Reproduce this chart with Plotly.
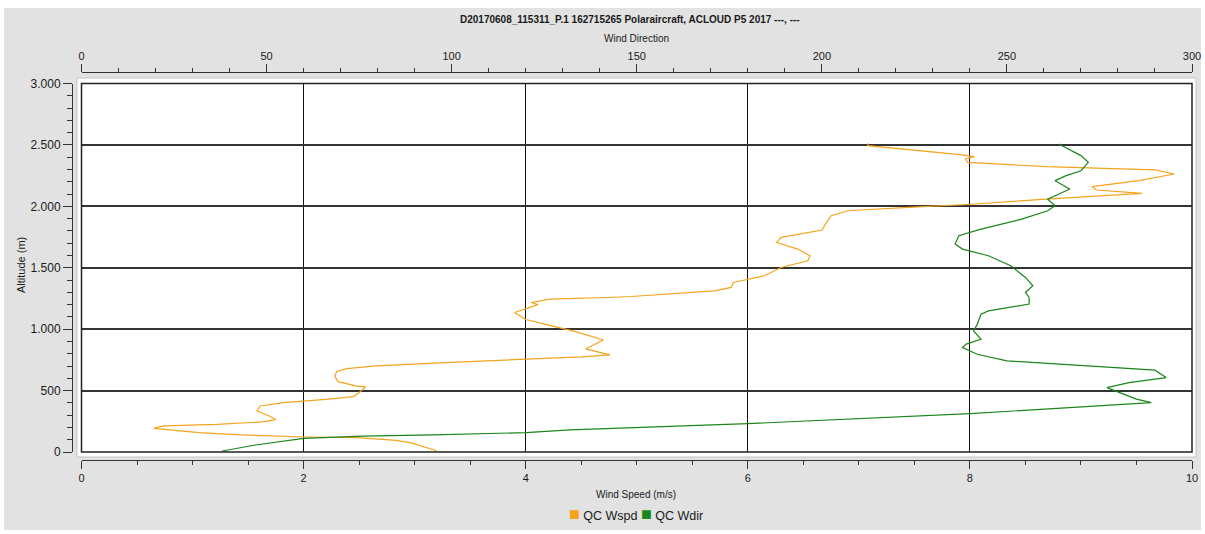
import plotly.graph_objects as go

# ---------------- data ----------------
wspd_alt = [10, 76, 95, 117, 122, 139, 158, 185, 192, 212, 225, 245, 264, 293, 334, 375,
            402, 429, 451, 484, 530, 538, 573, 619, 655, 679, 701, 728, 755, 775, 791, 840,
            912, 980, 1035, 1079, 1136, 1200, 1217, 1244, 1258, 1266, 1312, 1340, 1380, 1407,
            1435, 1502, 1557, 1598, 1652, 1706, 1747, 1807, 1842, 1924, 1964, 1997, 2013, 2059,
            2106, 2133, 2160, 2209, 2263, 2296, 2323, 2358, 2385, 2405, 2421, 2494, 2513]
wspd = [3.20, 2.96, 2.83, 2.48, 2.01, 1.44, 1.06, 0.68, 0.65, 0.74, 1.22, 1.63, 1.75, 1.69,
        1.58, 1.61, 1.82, 2.20, 2.45, 2.50, 2.56, 2.47, 2.31, 2.28, 2.30, 2.39, 2.65, 3.28,
        4.00, 4.50, 4.76, 4.54, 4.70, 4.45, 4.20, 4.00, 3.90, 4.11, 4.05, 4.22, 4.73, 4.95,
        5.70, 5.85, 5.87, 6.00, 6.15, 6.30, 6.54, 6.56, 6.45, 6.26, 6.30, 6.67, 6.69, 6.75,
        6.90, 7.57, 7.94, 8.69, 9.55, 9.14, 9.10, 9.52, 9.84, 9.67, 8.69, 7.98, 7.96, 8.04,
        7.91, 7.08, 7.08]

wdir_alt = [8, 57, 111, 130, 139, 158, 180, 231, 312, 402, 430, 497, 524, 565, 606, 666,
            701, 742, 796, 850, 878, 918, 986, 1041, 1122, 1149, 1204, 1258, 1299, 1353, 1421,
            1516, 1598, 1652, 1693, 1761, 1815, 1896, 1964, 2005, 2059, 2100, 2141, 2209, 2250,
            2290, 2358, 2413, 2508]
wdir = [38, 47, 60, 76, 95, 120, 132, 180, 240, 289, 285, 279, 277, 283, 293, 290,
        272, 250, 242, 238, 239, 243, 241, 242, 243, 245, 256, 256, 255, 257, 255,
        251, 245, 238, 236, 237, 243, 254, 261, 263, 261, 264, 267, 263, 266,
        270, 272, 270, 264]

alt_ticks = [0, 500, 1000, 1500, 2000, 2500, 3000]
alt_labels = ["0", "500", "1.000", "1.500", "2.000", "2.500", "3.000"]
spd_ticks = [0, 2, 4, 6, 8, 10]
dir_ticks = [0, 50, 100, 150, 200, 250, 300]

title_text = "D20170608_115311_P.1 162715265 Polaraircraft, ACLOUD P5 2017 ---, ---"
series_names = ["QC Wspd", "QC Wdir"]
series_colors = ["#F4A31C", "#1B861B"]

# ---------------- layout geometry (pixels) ----------------
W, H = 1205, 534
ML, MR, MT, MB = 72, 13, 72, 74
PW, PH = W - ML - MR, H - MT - MB


def PX(p):
    return (p - ML) / PW


def PY(p):
    return (H - MB - p) / PH


FONT = "Liberation Sans, Arial, sans-serif"
TXT = "#1a1a1a"

fig = go.Figure()
fig.add_trace(go.Scatter(x=wspd, y=wspd_alt, mode="lines", name=series_names[0],
                         line=dict(color=series_colors[0], width=1.2),
                         xaxis="x", yaxis="y", showlegend=False))
fig.add_trace(go.Scatter(x=wdir, y=wdir_alt, mode="lines", name=series_names[1],
                         line=dict(color=series_colors[1], width=1.2),
                         xaxis="x2", yaxis="y", showlegend=False))

xdom = [PX(81.5), 1]
ydom = [PY(452), PY(83.5)]

fig.update_layout(
    width=W, height=H,
    margin=dict(l=ML, r=MR, t=MT, b=MB, autoexpand=False),
    paper_bgcolor="white", plot_bgcolor="white",
    font=dict(family=FONT, color=TXT, size=11),
    showlegend=False,
    xaxis=dict(domain=xdom, range=[0, 10], anchor="free", position=0, automargin=False,
               tickvals=spd_ticks, ticks="outside", ticklen=8, tickcolor="#333",
               showline=True, linecolor="#333", linewidth=1,
               showgrid=True, gridcolor="#111", gridwidth=1, zeroline=False,
               minor=dict(dtick=0.5, ticklen=4, tickcolor="#333", ticks="outside", showgrid=False),
               tickfont=dict(size=11)),
    xaxis2=dict(range=[0, 300], overlaying="x", side="top", anchor="free", position=1,
                automargin=False,
                tickvals=dir_ticks, ticks="outside", ticklen=8, tickcolor="#333",
                showline=True, linecolor="#333", linewidth=1,
                showgrid=False, zeroline=False,
                minor=dict(dtick=10, ticklen=4, tickcolor="#333", ticks="outside", showgrid=False),
                tickfont=dict(size=11)),
    yaxis=dict(domain=ydom, range=[0, 3000], anchor="free", position=0, automargin=False,
               tickvals=alt_ticks, ticktext=alt_labels, ticks="outside", ticklen=9,
               tickcolor="#333", showline=True, linecolor="#333", linewidth=1,
               showgrid=True, gridcolor="#333", gridwidth=1.5, zeroline=False,
               minor=dict(dtick=100, ticklen=5, tickcolor="#333", ticks="outside", showgrid=False),
               tickfont=dict(size=12)),
)

shapes = [
    # grey panel background
    dict(type="rect", xref="paper", yref="paper", x0=PX(4), x1=PX(1201), y0=PY(530), y1=PY(8),
         fillcolor="#e2e2e2", line=dict(width=0), layer="below"),
    # white plot panel
    dict(type="rect", xref="paper", yref="paper", x0=PX(77), x1=PX(1196), y0=PY(457), y1=PY(78),
         fillcolor="white", line=dict(color="#c4c4c4", width=1), layer="below"),
    # plot frame
    dict(type="rect", xref="x domain", yref="y domain", x0=0, x1=1, y0=0, y1=1,
         line=dict(color="#222", width=1.5), layer="above"),
]
fig.update_layout(shapes=shapes)

legend_html = (f'<span style="color:{series_colors[0]};font-size:18px">■</span> {series_names[0]} '
               f'<span style="color:{series_colors[1]};font-size:18px">■</span> {series_names[1]}')

annotations = [
    dict(text=f"<b>{title_text}</b>", x=PX(630), y=PY(19), font=dict(size=10)),
    dict(text="Wind Direction", x=PX(636), y=PY(38), font=dict(size=10)),
    dict(text="Wind Speed (m/s)", x=PX(636), y=PY(495), font=dict(size=10)),
    dict(text="Altitude (m)", x=PX(21), y=PY(265), textangle=-90, font=dict(size=11)),
    dict(text=legend_html, x=PX(636), y=PY(514), font=dict(size=12.5)),
]
for a in annotations:
    a.update(xref="paper", yref="paper", showarrow=False, xanchor="center", yanchor="middle")
fig.update_layout(annotations=annotations)

fig.write_html("out.html")
